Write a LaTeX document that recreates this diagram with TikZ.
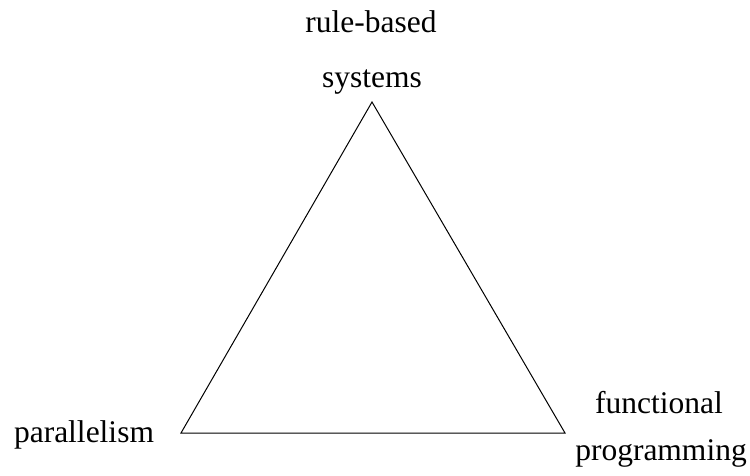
\documentclass[tikz,border=0pt]{standalone}
\usepackage{fontspec}
\setmainfont{Liberation Serif}
\begin{document}
\begin{tikzpicture}[x=1pt,y=-1pt,
  lbl/.style={anchor=base,inner sep=0pt,font=\fontsize{31.5}{36}\selectfont},
  edge/.style={draw=black,line width=1pt,line join=miter}]
  \useasboundingbox (0,0) rectangle (750,476);
  % corners of the triangle
  \coordinate (top) at (372,102);
  \coordinate (bl) at (181,433);
  \coordinate (br) at (565,433);
  \draw[edge] (top) -- (bl) -- (br) -- cycle;
  % corner labels
  \node[lbl] (rb) at (371,33) {rule-based};
  \node[lbl] (sys) at (372,88) {systems};
  \node[lbl] (par) at (84,442) {parallelism};
  \node[lbl] (fun) at (659,413) {functional};
  \node[lbl] (prog) at (661,460) {programming};
\end{tikzpicture}
\end{document}
